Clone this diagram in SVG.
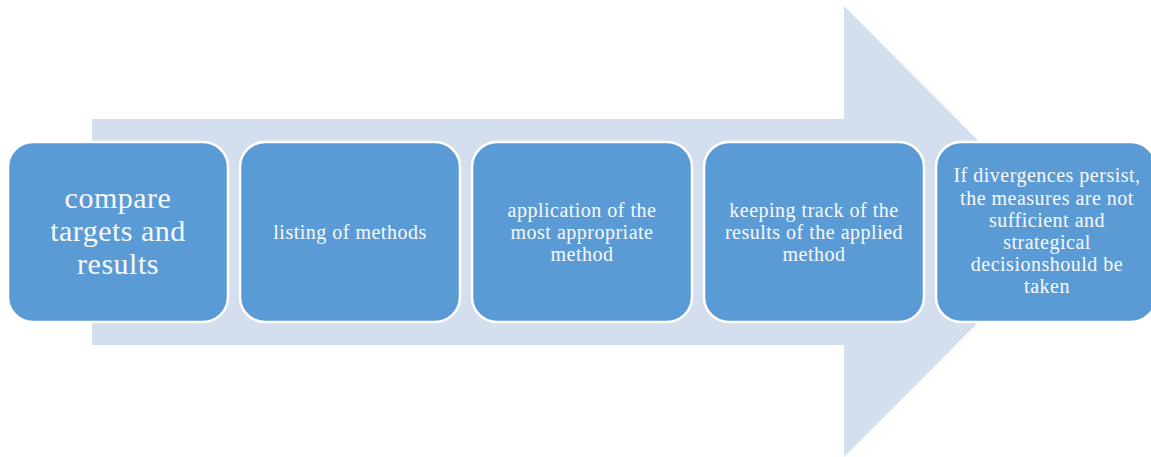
<svg xmlns="http://www.w3.org/2000/svg" width="1151" height="457" viewBox="0 0 1151 457">
<style>
.box{fill:#5b9bd5;stroke:#ffffff;stroke-width:2.5}
.t{font-family:"Liberation Serif","Times New Roman",serif;fill:#f7f9fc;text-anchor:middle;font-size:20px;letter-spacing:0.5px}
.big{font-size:30px;letter-spacing:0.5px}
</style>
<rect width="1151" height="457" fill="#ffffff"/>
<g id="arrow">
<polygon points="92,119 844,119 844,6 1069,231.5 844,457 844,345 92,345" fill="#d3deee"/>
</g>
<g id="connectors"></g>
<g id="n1">
<rect class="box" x="8" y="142" width="220" height="180" rx="25" ry="25"/>
<text class="t big" x="118" y="208">compare</text>
<text class="t big" x="118" y="241">targets and</text>
<text class="t big" x="118" y="274">results</text>
</g>
<g id="n2">
<rect class="box" x="240" y="142" width="220" height="180" rx="25" ry="25"/>
<text class="t" x="350" y="239">listing of methods</text>
</g>
<g id="n3">
<rect class="box" x="472" y="142" width="220" height="180" rx="25" ry="25"/>
<text class="t" x="582" y="217">application of the</text>
<text class="t" x="582" y="239">most appropriate</text>
<text class="t" x="582" y="261">method</text>
</g>
<g id="n4">
<rect class="box" x="704" y="142" width="220" height="180" rx="25" ry="25"/>
<text class="t" x="814" y="217">keeping track of the</text>
<text class="t" x="814" y="239">results of the applied</text>
<text class="t" x="814" y="261">method</text>
</g>
<g id="n5">
<rect class="box" x="936" y="142" width="220" height="180" rx="25" ry="25"/>
<text class="t" x="1047" y="182">If divergences persist,</text>
<text class="t" x="1047" y="205">the measures are not</text>
<text class="t" x="1047" y="227">sufficient and</text>
<text class="t" x="1047" y="249">strategical</text>
<text class="t" x="1047" y="271">decisionshould be</text>
<text class="t" x="1047" y="293">taken</text>
</g>
</svg>
